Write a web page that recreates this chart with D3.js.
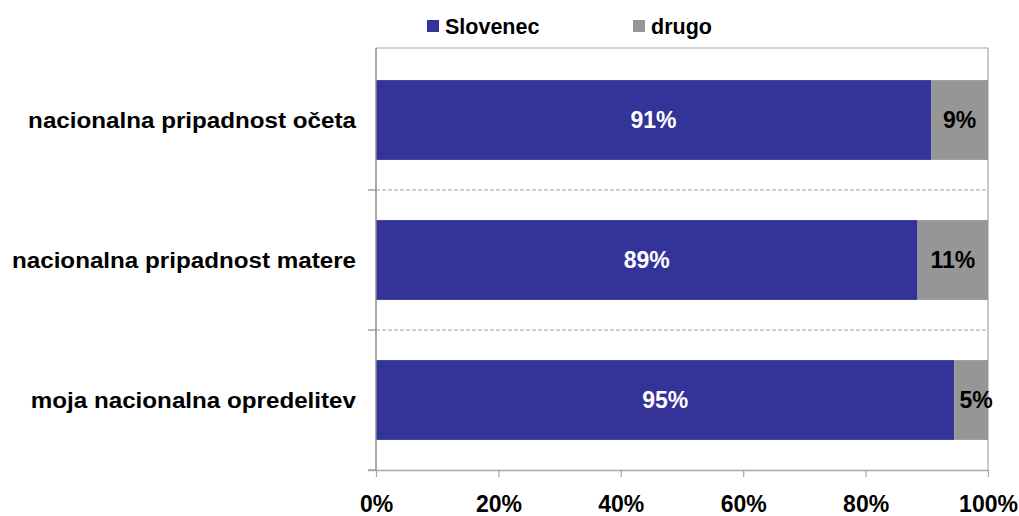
<!DOCTYPE html>
<html><head><meta charset="utf-8">
<script src="https://cdn.jsdelivr.net/npm/d3@7"></script>
<style>body{margin:0;background:#fff}text{font-family:"Liberation Sans",Arial,sans-serif;font-weight:bold}</style>
</head><body>
<svg id="c" width="1019" height="516"></svg>
<script>
const categories = ["nacionalna pripadnost očeta", "nacionalna pripadnost matere", "moja nacionalna opredelitev"];
const seriesNames = ["Slovenec", "drugo"];
const slovenec = [90.7, 88.5, 94.5];
const drugo = [9.3, 11.5, 5.5];
const slovenecLabels = ["91%", "89%", "95%"];
const drugoLabels = ["9%", "11%", "5%"];
const xTicks = [0, 20, 40, 60, 80, 100];
const colors = ["#333399", "#969696"];

const svg = d3.select("#c");
const m = {l: 376, r: 988, t: 50, b: 470};
const x = d3.scaleLinear().domain([0, 100]).range([m.l, m.r]);
const y = d3.scaleBand().domain(categories).range([m.t, m.b]).paddingInner(0.43).paddingOuter(0.215);
const band = d3.scaleBand().domain(categories).range([m.t, m.b]);

// plot border (top/right)
svg.append("path").attr("d", `M${m.l},${m.t-2}H${m.r}V${m.b}`).attr("fill","none").attr("stroke","#a6a6a6").attr("stroke-width",1.2);

// dashed separators
svg.selectAll(".sep").data(categories.slice(1)).enter().append("line")
  .attr("x1", m.l).attr("x2", m.r).attr("y1", d => band(d)).attr("y2", d => band(d))
  .attr("stroke", "#9a9a9a").attr("stroke-dasharray", "4,2").attr("stroke-width", 1);

const stackData = categories.map((c, i) => ({c, vals: [slovenec[i], drugo[i]], labs: [slovenecLabels[i], drugoLabels[i]]}));
stackData.forEach(d => {
  let x0 = 0;
  d.vals.forEach((v, k) => {
    svg.append("rect").attr("x", x(x0)).attr("y", y(d.c)).attr("width", x(x0 + v) - x(x0)).attr("height", y.bandwidth()).attr("fill", colors[k]);
    x0 += v;
  });
  x0 = 0;
  d.vals.forEach((v, k) => {
    const w = x(x0 + v) - x(x0);
    const cx = (x(x0) + x(x0 + v)) / 2 + (k === 1 && w < 40 ? 5 : 0);
    svg.append("text").attr("x", cx).attr("y", y(d.c) + y.bandwidth() / 2).attr("dy", "0.36em")
      .attr("text-anchor", "middle").attr("font-size", 23).attr("fill", k === 0 ? "#fff" : "#000").text(d.labs[k]);
    x0 += v;
  });
});

// left axis
svg.append("line").attr("x1", m.l).attr("x2", m.l).attr("y1", m.t - 2).attr("y2", m.b).attr("stroke", "#8c8c8c").attr("stroke-width", 1.5);
svg.selectAll(".lt").data(categories).enter().append("line")
  .attr("x1", m.l - 8).attr("x2", m.l).attr("y1", d => band(d) + band.bandwidth()).attr("y2", d => band(d) + band.bandwidth())
  .attr("stroke", "#8c8c8c").attr("stroke-width", 1.2);
svg.selectAll(".cl").data(categories).enter().append("text")
  .attr("transform", d => `translate(356,${band(d) + band.bandwidth() / 2}) scale(1.1,1)`)
  .attr("dy", "0.36em").attr("text-anchor", "end")
  .attr("font-size", 22).attr("fill", "#000").text(d => d);

// bottom axis
const xa = svg.append("g").attr("transform", `translate(0,${m.b})`)
  .call(d3.axisBottom(x).tickValues(xTicks).tickSize(7).tickFormat(d => d + "%"));
xa.select(".domain").attr("d", `M${m.l-8},0.5H${m.r}`).attr("stroke", "#a6a6a6").attr("stroke-width", 1.5);
xa.selectAll(".tick line").attr("stroke", "#a6a6a6").attr("stroke-width", 1.2);
xa.selectAll(".tick text").attr("font-size", 23).attr("fill", "#000").attr("y", 26).attr("font-family", "Liberation Sans, Arial, sans-serif").attr("font-weight", "bold");

// legend
const lg = [{n: seriesNames[0], x: 427}, {n: seriesNames[1], x: 633}];
lg.forEach((d, i) => {
  svg.append("rect").attr("x", d.x).attr("y", 20).attr("width", 12).attr("height", 12).attr("fill", colors[i]);
  svg.append("text").attr("x", d.x + 18).attr("y", 26).attr("dy", "0.36em").attr("font-size", 21.5).attr("fill", "#000").text(d.n);
});
</script>
</body></html>
